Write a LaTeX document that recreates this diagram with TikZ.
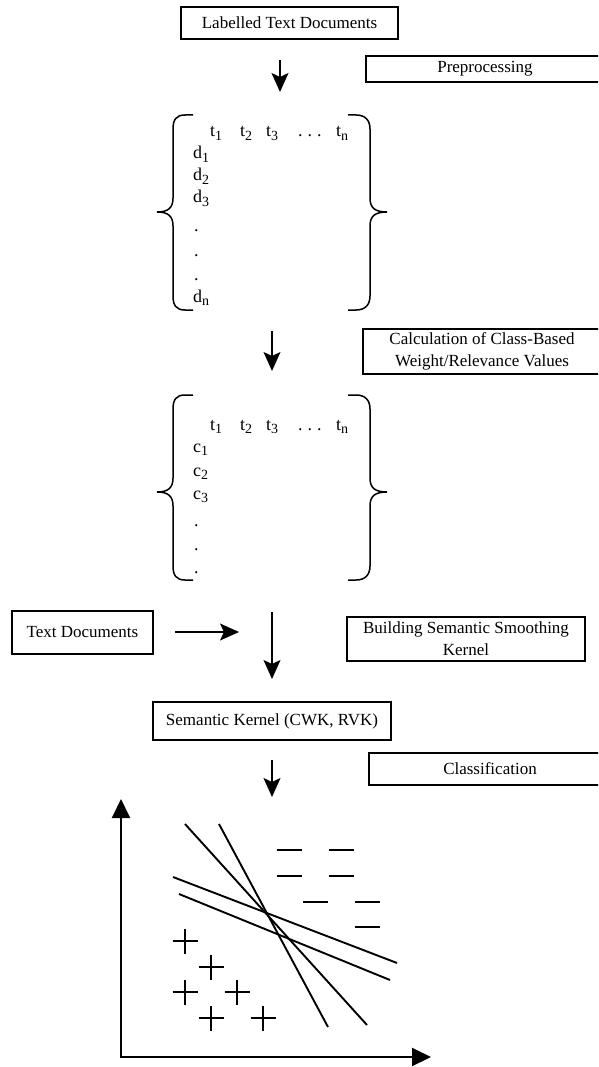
\documentclass[tikz,border=0pt]{standalone}
\usepackage{fontspec}
\setmainfont{Liberation Serif}
\usetikzlibrary{arrows.meta}
\newcommand\sbs[1]{\raisebox{-0.45ex}{\fontsize{14}{14}\selectfont #1}}
\begin{document}
\begin{tikzpicture}[x=1pt,y=-1pt,
  box/.style={draw,line width=1.8pt,inner sep=0pt,align=center,font=\fontsize{17}{22}\selectfont},
  ent/.style={anchor=base west,inner sep=0pt,font=\fontsize{18}{18}\selectfont},
  flow/.style={line width=1.5pt,-{Stealth[length=19pt,width=17pt,inset=4pt]}},
  brace/.style={line width=1.5pt},
  axis/.style={line width=2pt},
  sep/.style={line width=1.9pt},
  sym/.style={line width=1.5pt}]
\useasboundingbox (0,0) rectangle (598,1067);
\clip (0,0) rectangle (598,1067);

% boxes
\node[box,minimum width=217pt,minimum height=32pt] (lab) at (289.5,23) {Labelled Text Documents};
\node[box,minimum width=238pt,minimum height=26pt] (pre) at (485,69) {Preprocessing};
\node[box,minimum width=238pt,minimum height=45pt] (calc) at (482,351.5) {Calculation of Class-Based\\Weight/Relevance Values};
\node[box,minimum width=141pt,minimum height=43pt] (txt) at (82.5,632.5) {Text Documents};
\node[box,minimum width=238pt,minimum height=44pt] (build) at (466,639) {Building Semantic Smoothing\\Kernel};
\node[box,minimum width=238pt,minimum height=38pt] (sem) at (272,721) {Semantic Kernel (CWK, RVK)};
\node[box,minimum width=242pt,minimum height=32pt] (cls) at (490,769) {Classification};

% arrow end points
\coordinate (a1s) at (280,60);  \coordinate (a1e) at (280,92);
\coordinate (a2s) at (272,331); \coordinate (a2e) at (272,371);
\coordinate (a3s) at (272,612); \coordinate (a3e) at (272,679);
\coordinate (a4s) at (272,760); \coordinate (a4e) at (272,797);
\coordinate (hs) at (175,632);  \coordinate (he) at (239,632);
\draw[flow] (a1s) -- (a1e);
\draw[flow] (a2s) -- (a2e);
\draw[flow] (a3s) -- (a3e);
\draw[flow] (a4s) -- (a4e);
\draw[flow] (hs) -- (he);

% matrix 1
\draw[brace] (193,115) -- (185,115) .. controls (176,115) and (173,120) .. (173,129) -- (173,198) .. controls (173,208) and (168,212) .. (157,212) .. controls (168,212) and (173,216) .. (173,226) -- (173,296) .. controls (173,305) and (176,310) .. (185,310) -- (193,310);
\draw[brace] (348,115) -- (356,115) .. controls (365,115) and (370,120) .. (370,129) -- (370,198) .. controls (370,208) and (375,212) .. (387,212) .. controls (375,212) and (370,216) .. (370,226) -- (370,296) .. controls (370,305) and (365,310) .. (356,310) -- (348,310);
\node[ent] (m1t1) at (210,137) {t\sbs{1}};
\node[ent] (m1t2) at (240,137) {t\sbs{2}};
\node[ent] (m1t3) at (266,137) {t\sbs{3}};
\node[ent] (m1td) at (298,137) {.\hspace{5pt}.\hspace{5pt}.};
\node[ent] (m1tn) at (336,137) {t\sbs{n}};
\node[ent] (d1) at (193,159) {d\sbs{1}};
\node[ent] (d2) at (193,181) {d\sbs{2}};
\node[ent] (d3) at (193,203) {d\sbs{3}};
\node[ent] (dp1) at (194,232) {.};
\node[ent] (dp2) at (194,256) {.};
\node[ent] (dp3) at (194,280) {.};
\node[ent] (dn) at (193,302) {d\sbs{n}};

% matrix 2
\draw[brace] (193,395) -- (185,395) .. controls (176,395) and (173,400) .. (173,409) -- (173,478) .. controls (173,488) and (168,492) .. (157,492) .. controls (168,492) and (173,496) .. (173,506) -- (173,566) .. controls (173,575) and (176,580) .. (185,580) -- (193,580);
\draw[brace] (348,395) -- (356,395) .. controls (365,395) and (370,400) .. (370,409) -- (370,478) .. controls (370,488) and (375,492) .. (387,492) .. controls (375,492) and (370,496) .. (370,506) -- (370,566) .. controls (370,575) and (365,580) .. (356,580) -- (348,580);
\node[ent] (m2t1) at (210,430) {t\sbs{1}};
\node[ent] (m2t2) at (240,430) {t\sbs{2}};
\node[ent] (m2t3) at (266,430) {t\sbs{3}};
\node[ent] (m2td) at (298,430) {.\hspace{5pt}.\hspace{5pt}.};
\node[ent] (m2tn) at (336,430) {t\sbs{n}};
\node[ent] (c1) at (193,452) {c\sbs{1}};
\node[ent] (c2) at (193,476) {c\sbs{2}};
\node[ent] (c3) at (193,499) {c\sbs{3}};
\node[ent] (cp1) at (194,526) {.};
\node[ent] (cp2) at (194,550) {.};
\node[ent] (cp3) at (194,573) {.};

% classification plot
\coordinate (O) at (121,1057);
\coordinate (ytop) at (121,799);
\coordinate (xend) at (431,1057);
\draw[axis,{Triangle[length=19pt,width=18pt]}-{Triangle[length=19pt,width=18pt]}] (ytop) -- (O) -- (xend);
\draw[sep] (185,824) -- (367,1025);
\draw[sep] (219,824) -- (328,1027);
\draw[sep] (173,877) -- (397,963);
\draw[sep] (179,894) -- (390,980);
\foreach \x/\y in {289/850,341/850,289/876,341/876,315/902,367/902,367/927}
  \draw[sym] (\x-12.5,\y) -- (\x+12.5,\y);
\foreach \x/\y in {185/941,211/967,185/992,237/992,211/1018,263/1018}
  {\draw[sym] (\x-12.5,\y) -- (\x+12.5,\y); \draw[sym] (\x,\y-12.5) -- (\x,\y+12.5);}
\end{tikzpicture}
\end{document}
